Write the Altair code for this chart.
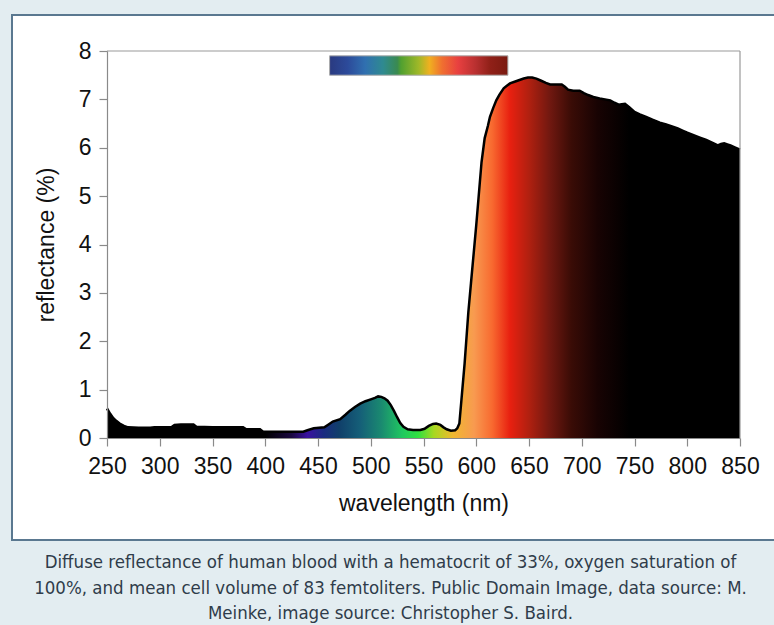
import altair as alt
import pandas as pd

# ---- data ----
wavelength = [250, 253, 256, 259, 262, 266, 270, 280, 291, 295, 311, 314, 320, 332, 335,
              350, 365, 379, 382, 395, 398, 436, 440, 446, 456, 460, 464, 471, 476, 480,
              485, 490, 495, 500, 504, 507, 510, 513, 516, 519, 522, 525, 528, 531, 535,
              540, 547, 551, 555, 559, 562, 566, 569, 572, 576, 580, 582, 584, 586, 589,
              592.5, 595, 597, 600, 602, 605, 608, 611, 613, 616, 619, 622, 626, 629, 632,
              637, 641, 645, 649, 653, 657, 661, 666, 670, 675, 681, 684, 687, 692, 698,
              702, 706, 711, 717, 722, 727, 731, 735, 738, 741, 745, 750, 755, 761, 767,
              774, 780, 787, 791, 796, 800, 806, 812, 818, 824, 829, 832, 835, 838, 841,
              845, 850]
reflectance = [0.61, 0.50, 0.41, 0.35, 0.30, 0.25, 0.22, 0.21, 0.21, 0.22, 0.22, 0.27, 0.28, 0.28, 0.23,
               0.22, 0.22, 0.22, 0.18, 0.18, 0.13, 0.13, 0.16, 0.20, 0.22, 0.28, 0.34, 0.39, 0.48, 0.56,
               0.64, 0.71, 0.76, 0.80, 0.83, 0.86, 0.85, 0.82, 0.77, 0.68, 0.56, 0.43, 0.31, 0.23, 0.18,
               0.165, 0.165, 0.19, 0.25, 0.29, 0.30, 0.27, 0.22, 0.18, 0.15, 0.16, 0.20, 0.30, 0.80, 1.55,
               2.60, 3.20, 3.68, 4.40, 4.92, 5.70, 6.20, 6.45, 6.64, 6.82, 6.98, 7.10, 7.23, 7.28, 7.33,
               7.37, 7.40, 7.43, 7.45, 7.45, 7.43, 7.39, 7.34, 7.31, 7.31, 7.31, 7.26, 7.20, 7.18, 7.18,
               7.13, 7.09, 7.05, 7.02, 7.00, 6.98, 6.93, 6.89, 6.90, 6.91, 6.84, 6.74, 6.69, 6.64, 6.58,
               6.52, 6.48, 6.43, 6.40, 6.35, 6.31, 6.26, 6.21, 6.16, 6.10, 6.05, 6.08, 6.09, 6.07, 6.05,
               6.01, 5.96]
x_ticks = [250, 300, 350, 400, 450, 500, 550, 600, 650, 700, 750, 800, 850]
y_ticks = [0, 1, 2, 3, 4, 5, 6, 7, 8]
x_title = "wavelength (nm)"
y_title = "reflectance (%)"
caption = [
    "Diffuse reflectance of human blood with a hematocrit of 33%, oxygen saturation of",
    "100%, and mean cell volume of 83 femtoliters. Public Domain Image, data source: M.",
    "Meinke, image source: Christopher S. Baird.",
]
spectrum_band = {"start": 461, "end": 630, "low": 7.5, "high": 7.9}

df = pd.DataFrame({"wavelength": wavelength, "reflectance": reflectance})
one = pd.DataFrame({"k": [0]})

# ---- styles ----
area_stops = [
    (250, "#000000"), (400, "#000000"), (425, "#1a0840"), (440, "#3a10a0"),
    (455, "#1a2a80"), (470, "#103f6a"), (490, "#155f78"), (510, "#1a8a70"),
    (530, "#20c860"), (545, "#30e040"), (560, "#a8d820"), (578, "#f0b830"),
    (598, "#f89a50"), (615, "#f86a30"), (632, "#e82010"), (650, "#b02010"),
    (670, "#701810"), (690, "#3a0c06"), (715, "#180303"), (745, "#000000"),
    (850, "#000000"),
]
bar_stops = [
    (0.0, "#2a3a80"), (0.1, "#2c4a9a"), (0.2, "#3070b0"), (0.3, "#2f8a90"),
    (0.38, "#3a8a50"), (0.40, "#50a030"), (0.5, "#a0b828"), (0.56, "#f0b020"),
    (0.63, "#f07030"), (0.72, "#e84040"), (0.82, "#b83030"), (0.9, "#902018"),
    (1.0, "#7a1a10"),
]


def grad(stops, lo, hi):
    return alt.Gradient(
        gradient="linear", x1=0, x2=1, y1=0, y2=0,
        stops=[alt.GradientStop(offset=(w - lo) / (hi - lo), color=c) for w, c in stops],
    )


FONT = "Liberation Sans, Arial, sans-serif"
xscale = alt.Scale(domain=[250, 850], nice=False, zero=False)
yscale = alt.Scale(domain=[0, 8], nice=False)

panel = alt.Chart(one).mark_rect(fill="white", stroke="#5a7890", strokeWidth=2).encode(
    x=alt.value(-95), x2=alt.value(720), y=alt.value(-36), y2=alt.value(489)
)

area = alt.Chart(df).mark_area(fill=grad(area_stops, 250, 850), interpolate="linear").encode(
    x=alt.X("wavelength:Q", scale=xscale,
            axis=alt.Axis(values=x_ticks, title=x_title, grid=False, tickSize=8,
                          labelPadding=9, titlePadding=14, labelFlush=False,
                          labelOverlap=False, zindex=1)),
    y=alt.Y("reflectance:Q", scale=yscale,
            axis=alt.Axis(values=y_ticks, title=y_title, grid=False, tickSize=8,
                          labelPadding=8, titlePadding=20, labelFlush=False,
                          labelOverlap=False, zindex=1)),
)

line = alt.Chart(df).mark_line(color="black", strokeWidth=2.5, interpolate="linear").encode(
    x="wavelength:Q", y="reflectance:Q"
)

bar = alt.Chart(one).mark_rect(fill=grad(bar_stops, 0, 1), stroke="#aaaaaa", strokeWidth=1).encode(
    x=alt.datum(spectrum_band["start"]), x2=alt.datum(spectrum_band["end"]),
    y=alt.datum(spectrum_band["high"]), y2=alt.datum(spectrum_band["low"]),
)

frame_top = alt.Chart(one).mark_rule(color="#999999", strokeWidth=1.2).encode(
    x=alt.datum(250), x2=alt.datum(850), y=alt.datum(8)
)
frame_right = alt.Chart(one).mark_rule(color="#999999", strokeWidth=1.2).encode(
    x=alt.datum(850), y=alt.datum(0), y2=alt.datum(8)
)

chart = alt.layer(panel, area, line, bar, frame_top, frame_right).properties(
    width=633,
    height=387,
    padding={"left": 107, "top": 51, "right": 34, "bottom": 187},
    autosize=alt.AutoSizeParams(type="none"),
    background="#e3edf1",
    title=alt.TitleParams(
        text=caption, orient="bottom", anchor="middle", dx=-33, offset=12,
        font="DejaVu Sans Condensed, Liberation Sans Narrow, sans-serif",
        fontSize=18.5, fontWeight="normal", color="#2f3c4a", lineHeight=25.5,
    ),
).configure_view(strokeWidth=0).configure_axis(
    labelFont=FONT, labelFontSize=23, labelColor="#111111",
    titleFont=FONT, titleFontSize=23, titleFontWeight="normal", titleColor="#111111",
    tickColor="#8a8a8a", domainColor="#8a8a8a", tickWidth=1.2, domainWidth=1.2,
)

chart.save("out.html", embed_options={"renderer": "svg", "actions": False})
